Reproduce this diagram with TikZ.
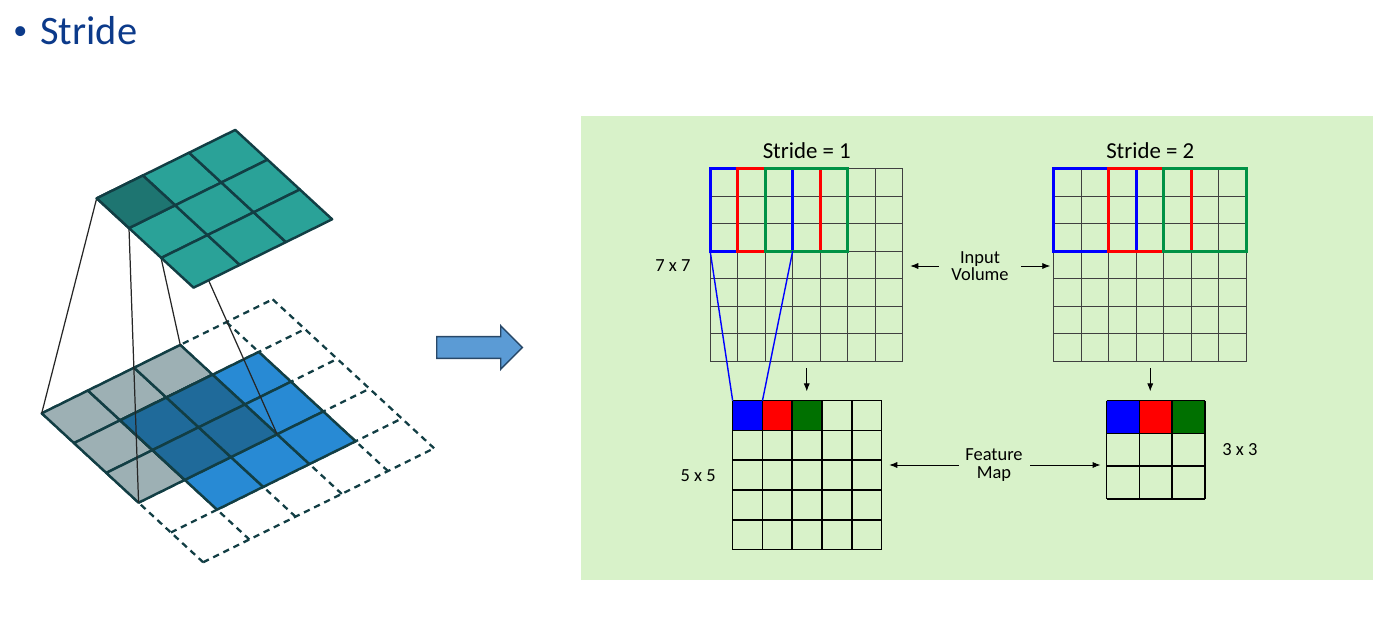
\documentclass[tikz,border=0pt]{standalone}
\usepackage{fontspec}
\setmainfont{Carlito}
\definecolor{titleblue}{RGB}{12,58,138}
\definecolor{panelgreen}{RGB}{216,242,201}
\definecolor{arrowfill}{RGB}{91,155,213}
\definecolor{arrowedge}{RGB}{40,72,104}
\definecolor{outteal}{RGB}{42,162,152}
\definecolor{outdark}{RGB}{30,117,113}
\definecolor{ingray}{RGB}{157,176,180}
\definecolor{inblue}{RGB}{40,138,212}
\definecolor{indark}{RGB}{31,106,154}
\definecolor{edgeteal}{RGB}{18,62,68}
\definecolor{winblue}{RGB}{0,0,255}
\definecolor{winred}{RGB}{255,0,0}
\definecolor{wingreen}{RGB}{0,146,69}
\definecolor{fmgreen}{RGB}{0,112,0}
\usetikzlibrary{positioning, calc, arrows.meta}

\begin{document}
\begin{tikzpicture}[x=0.02cm, y=-0.02cm,
		lbl/.style={font=\fontsize{10.5pt}{10pt}\selectfont, inner sep=0pt, align=center},
		head/.style={font=\fontsize{13pt}{15pt}\selectfont, inner sep=0pt},
		inbox/.style={inner sep=0pt, minimum width=3.85cm, minimum height=3.85cm},
		gridline/.style={draw=black!75, line width=0.5pt},
		fmline/.style={draw=black, line width=0.9pt},
		win/.style={line width=1.8pt},
		arr/.style={-{Latex[length=4.5pt,width=3.5pt]}, line width=0.5pt},
		cell/.style={draw=edgeteal, line width=1.4pt, line join=round},
		pad/.style={draw=edgeteal, line width=1.3pt, dash pattern=on 3.6pt off 2.8pt},
		proj/.style={draw=black!85, line width=0.7pt}
		]
		\useasboundingbox (0,0) rectangle (1383,618);
		
		\node[font=\fontsize{16pt}{18pt}\selectfont, text=titleblue, inner sep=0pt] (bullet) at (20.5,33.5) {•};
		\node[font=\fontsize{23pt}{27pt}\selectfont, text=titleblue, inner sep=0pt, anchor=base west] (title) at (40,45) {Stride};
		
		% input plane with padding
		\begin{scope}[shift={(41.7,413.3)}, x={(0.924cm,0.456cm)}, y={(0.646cm,-0.596cm)}]
			\foreach \k in {0,...,5}{
				\draw[pad] (\k,0) -- (\k,5);
				\draw[pad] (0,\k) -- (5,\k);
			}
			\foreach \i in {0,1,2}
				\foreach \j in {0,1,2}
					\filldraw[cell, fill=ingray] (\i,\j) -- ++(1,0) -- ++(0,1) -- ++(-1,0) -- cycle;
			\foreach \i in {1,2,3}
				\foreach \j in {1,2,3}
					\filldraw[cell, fill=inblue] (\i,\j) -- ++(1,0) -- ++(0,1) -- ++(-1,0) -- cycle;
			\foreach \i in {1,2}
				\foreach \j in {1,2}
					\filldraw[cell, fill=indark] (\i,\j) -- ++(1,0) -- ++(0,1) -- ++(-1,0) -- cycle;
			\coordinate (b00) at (0,0);
			\coordinate (b03) at (0,3);
			\coordinate (b30) at (3,0);
			\coordinate (b33) at (3,3);
		\end{scope}
		
		% output plane
		\begin{scope}[shift={(96.7,198.3)}, x={(0.924cm,0.456cm)}, y={(0.646cm,-0.596cm)}]
			\coordinate (t00) at (0,0);
			\coordinate (t01) at (0,1);
			\coordinate (t10) at (1,0);
			\coordinate (t11) at (1,1);
			\draw[proj] (t00) -- (b00);
			\draw[proj] (t01) -- (b03);
			\draw[proj] (t10) -- (b30);
			\draw[proj] (t11) -- (b33);
			\foreach \i in {0,1,2}
				\foreach \j in {0,1,2}
					\filldraw[cell, fill=outteal] (\i,\j) -- ++(1,0) -- ++(0,1) -- ++(-1,0) -- cycle;
			\filldraw[cell, fill=outdark] (0,0) -- ++(1,0) -- ++(0,1) -- ++(-1,0) -- cycle;
		\end{scope}
		
		\draw[fill=arrowfill, draw=arrowedge, line width=0.8pt, line join=miter]
			(436.7,336.7) -- (500.7,336.7) -- (500.7,325.7) -- (522.3,347.5)
			-- (500.7,369.3) -- (500.7,358.3) -- (436.7,358.3) -- cycle;
		
		\fill[panelgreen] (580.7,115.7) rectangle (1373,580);
		
		\node[inbox] (in1) at (806.75,265.25) {};
		\node[inbox] (in2) at (1150.25,265.25) {};
		\node[inbox, minimum width=2.98cm, minimum height=2.98cm] (fm1) at (807.5,475.5) {};
		\node[inbox, minimum width=1.962cm, minimum height=1.962cm] (fm2) at (1156,450) {};
		
		\foreach \g in {in1,in2}
			\foreach \k in {0,...,7}{
				\draw[gridline] ($(\g.north west)+(\k*27.5,0)$) -- ($(\g.south west)+(\k*27.5,0)$);
				\draw[gridline] ($(\g.north west)+(0,\k*27.5)$) -- ($(\g.north east)+(0,\k*27.5)$);
			}
		
		\foreach \c [count=\i from 0] in {winblue,winred,wingreen}{
			\draw[win, \c] ($(in1.north west)+(\i*27.5,0)$) rectangle +(82.5,82.5);
			\draw[win, \c] ($(in2.north west)+(\i*55,0)$) rectangle +(82.5,82.5);
		}
		
		\foreach \c [count=\i from 0] in {winblue,winred,fmgreen}{
			\fill[\c] ($(fm1.north west)+(\i*29.8,0)$) rectangle +(29.8,29.8);
			\fill[\c] ($(fm2.north west)+(\i*32.7,0)$) rectangle +(32.7,32.7);
		}
		\foreach \k in {0,...,5}{
			\draw[fmline] ($(fm1.north west)+(\k*29.8,0)$) -- ($(fm1.south west)+(\k*29.8,0)$);
			\draw[fmline] ($(fm1.north west)+(0,\k*29.8)$) -- ($(fm1.north east)+(0,\k*29.8)$);
		}
		\foreach \k in {0,...,3}{
			\draw[fmline] ($(fm2.north west)+(\k*32.7,0)$) -- ($(fm2.south west)+(\k*32.7,0)$);
			\draw[fmline] ($(fm2.north west)+(0,\k*32.7)$) -- ($(fm2.north east)+(0,\k*32.7)$);
		}
		
		\draw[winblue, line width=0.8pt] ($(in1.north west)+(0,82.5)$) -- (fm1.north west);
		\draw[winblue, line width=0.8pt] ($(in1.north west)+(82.5,82.5)$) -- ($(fm1.north west)+(29.8,0)$);
		
		\node[head, anchor=base] (s1) at ($(in1.north)+(0,-10.5)$) {Stride = 1};
		\node[head, anchor=base] (s2) at ($(in2.north)+(0,-10.5)$) {Stride = 2};
		\node[lbl, left=11pt of in1] (n7) {7 x 7};
		\node[lbl, left=9.5pt of fm1] (n5) {5 x 5};
		\node[lbl, right=9.5pt of fm2] (n3) {3 x 3};
		\node[lbl] (iv) at (980,266) {Input\\Volume};
		\node[lbl] (fmap) at (994,465) {Feature\\Map};
		
		\draw[arr, shorten <=7pt, shorten >=4pt] (iv.west) -- (iv.west -| in1.east);
		\draw[arr, shorten <=7pt, shorten >=2pt] (iv.east) -- (iv.east -| in2.west);
		\draw[arr, shorten <=3.5pt, shorten >=4pt] (fmap.west) -- (fmap.west -| fm1.east);
		\draw[arr, shorten <=4pt, shorten >=3.5pt] (fmap.east) -- (fmap.east -| fm2.west);
		\draw[arr, shorten <=3.7pt, shorten >=5.3pt] (in1.south) -- (in1.south |- fm1.north);
		\draw[arr, shorten <=3.7pt, shorten >=5.3pt] (in2.south) -- (in2.south |- fm2.north);
	\end{tikzpicture}
\end{document}
